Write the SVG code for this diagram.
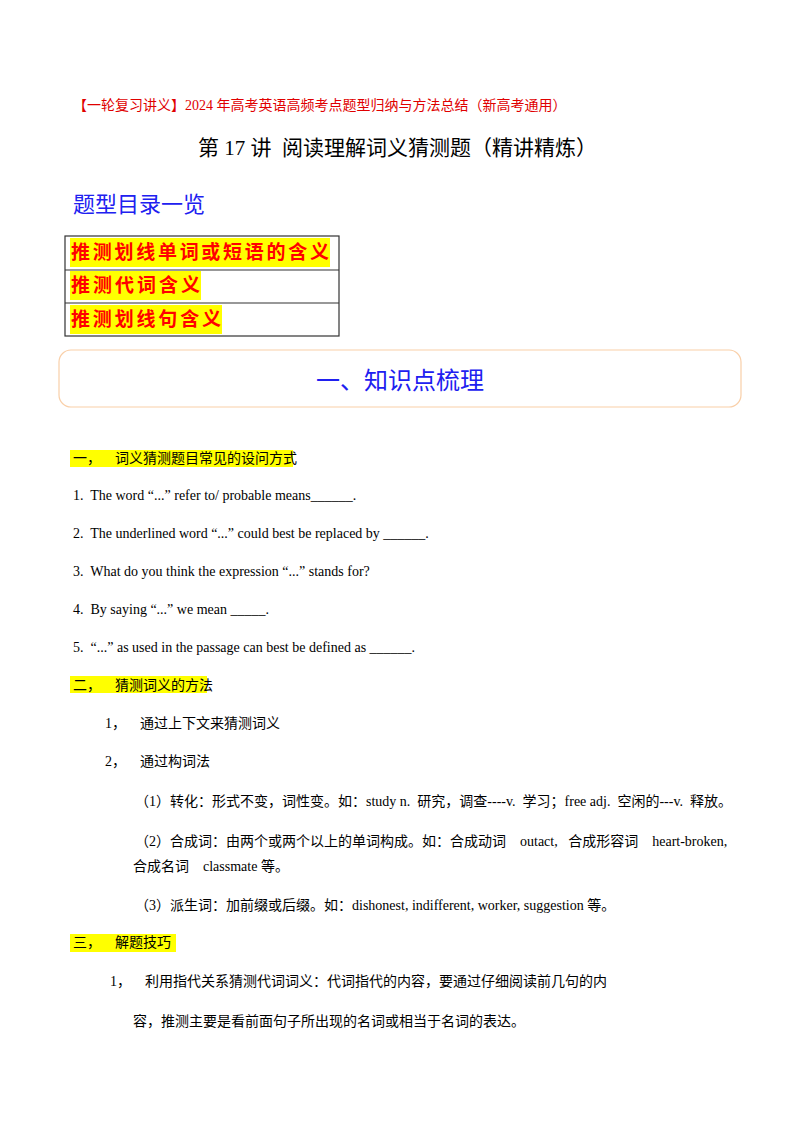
<svg xmlns="http://www.w3.org/2000/svg" width="800" height="1132" viewBox="0 0 800 1132">
<style>
text{font-family:"Liberation Serif","Noto Sans CJK SC",serif;fill:#000;white-space:pre}
.t{font-size:14px}
.red{fill:#e00000}
.blue{fill:#2020f0}
.tb{font-size:19px;font-weight:bold;fill:#ff0000;font-family:"Noto Sans CJK SC",sans-serif}
.hl{fill:#ffff00}
</style>
<rect width="800" height="1132" fill="#fff"/>
<text x="73" y="110" class="red" font-size="14">【一轮复习讲义】2024 年高考英语高频考点题型归纳与方法总结（新高考通用）</text>
<text x="198" y="155" font-size="21">第 17 讲  阅读理解词义猜测题（精讲精炼）</text>
<text x="73" y="212" class="blue" font-size="22">题型目录一览</text>
<g id="toc">
<rect x="65" y="236" width="274" height="100" fill="none" stroke="#333" stroke-width="1.2"/>
<line x1="65" y1="270" x2="339" y2="270" stroke="#333" stroke-width="1.2"/>
<line x1="65" y1="303" x2="339" y2="303" stroke="#333" stroke-width="1.2"/>
<rect x="70" y="238" width="260" height="29" class="hl"/>
<rect x="70" y="271" width="131" height="29" class="hl"/>
<rect x="70" y="305" width="152" height="29" class="hl"/>
<text x="71" y="259" class="tb" textLength="258">推测划线单词或短语的含义</text>
<text x="71" y="292" class="tb" textLength="129">推测代词含义</text>
<text x="71" y="326" class="tb" textLength="150">推测划线句含义</text>
</g>
<g id="banner">
<rect x="59" y="350" width="682" height="57" rx="12" fill="#fff" stroke="#f9cfa8" stroke-width="1.2"/>
<text x="400" y="389" class="blue" font-size="24" text-anchor="middle">一、知识点梳理</text>
</g>
<rect x="70" y="450" width="223" height="17" class="hl"/>
<text x="73" y="463" class="t">一，    词义猜测题目常见的设问方式</text>
<text x="73" y="500" class="t">1.  The word “...” refer to/ probable means______.</text>
<text x="73" y="538" class="t">2.  The underlined word “...” could best be replaced by ______.</text>
<text x="73" y="576" class="t">3.  What do you think the expression “...” stands for?</text>
<text x="73" y="614" class="t">4.  By saying “...” we mean _____.</text>
<text x="73" y="652" class="t">5.  “...” as used in the passage can best be defined as ______.</text>
<rect x="70" y="676" width="137" height="17" class="hl"/>
<text x="73" y="690" class="t">二，    猜测词义的方法</text>
<text x="105" y="728" class="t">1，    通过上下文来猜测词义</text>
<text x="105" y="766" class="t">2，    通过构词法</text>
<text x="135" y="806" class="t">（1）转化：形式不变，词性变。如：study n.  研究，调查----v.  学习；free adj.  空闲的---v.  释放。</text>
<text x="135" y="846" class="t">（2）合成词：由两个或两个以上的单词构成。如：合成动词    outact,   合成形容词    heart-broken,</text>
<text x="133" y="871" class="t">合成名词    classmate 等。</text>
<text x="135" y="910" class="t">（3）派生词：加前缀或后缀。如：dishonest, indifferent, worker, suggestion 等。</text>
<rect x="70" y="934" width="106" height="18" class="hl"/>
<text x="73" y="947" class="t">三，    解题技巧</text>
<text x="110" y="986" class="t">1，    利用指代关系猜测代词词义：代词指代的内容，要通过仔细阅读前几句的内</text>
<text x="133" y="1026" class="t">容，推测主要是看前面句子所出现的名词或相当于名词的表达。</text>
</svg>
